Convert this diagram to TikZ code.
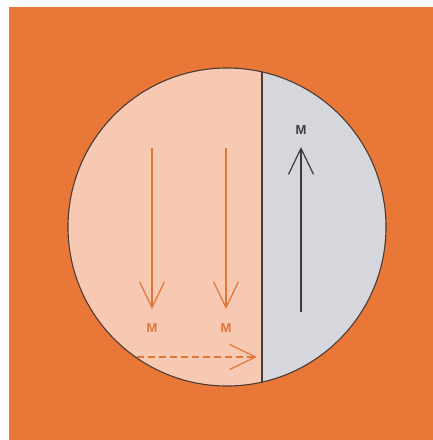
\documentclass[tikz,border=0pt]{standalone}
\usepackage{fontspec}
\setmainfont{Liberation Sans}
\usetikzlibrary{arrows.meta}
\definecolor{bgorange}{HTML}{E97838}
\definecolor{pinkfill}{HTML}{F7C9B3}
\definecolor{greyfill}{HTML}{D6D7DC}
\definecolor{arroworange}{HTML}{E27436}
\definecolor{darkline}{HTML}{4A3A34}
\definecolor{darkarrow}{HTML}{3E3A3C}
\tikzset{
  openhead/.style={-{Straight Barb[length=26pt,width=25pt,line width=1.2pt]}},
  orangearrow/.style={draw=arroworange,line width=1.3pt,openhead},
  darkarrowstyle/.style={draw=darkarrow,line width=1.3pt,openhead},
  mlabel/.style={font=\bfseries\fontsize{13}{14}\selectfont,inner sep=0pt}
}
\begin{document}
\begin{tikzpicture}[x=1pt,y=-1pt]
\useasboundingbox (0,0) rectangle (433,440);
\fill[white] (0,0) rectangle (433,440);
\fill[bgorange] (9,7) rectangle (433,440);
% circle halves
\begin{scope}
  \clip (227,227) circle[radius=159];
  \fill[pinkfill] (60,60) rectangle (262,400);
  \fill[greyfill] (262,60) rectangle (400,400);
\end{scope}
\draw[darkline,line width=1.1pt] (227,227) circle[radius=159];
\coordinate (dtop) at (262,72);
\coordinate (dbot) at (262,382);
\draw[darkline,line width=1.4pt] (dtop) -- (dbot);
% orange arrows
\coordinate (a1s) at (152,148);
\coordinate (a1e) at (152,309);
\coordinate (a2s) at (226,148);
\coordinate (a2e) at (226,309);
\draw[orangearrow] (a1s) -- (a1e);
\draw[orangearrow] (a2s) -- (a2e);
\node[mlabel,text=arroworange] (m1) at (152,328) {M};
\node[mlabel,text=arroworange] (m2) at (226,328) {M};
% dashed arrow
\coordinate (ds) at (137,357);
\coordinate (de) at (257,357);
\draw[orangearrow,dashed,dash pattern=on 7pt off 4pt] (ds) -- (de);
% dark arrow
\coordinate (bs) at (301,312);
\coordinate (be) at (301,147);
\draw[darkarrowstyle] (bs) -- (be);
\node[mlabel,text=darkarrow] (m3) at (301,130) {M};
\end{tikzpicture}
\end{document}
